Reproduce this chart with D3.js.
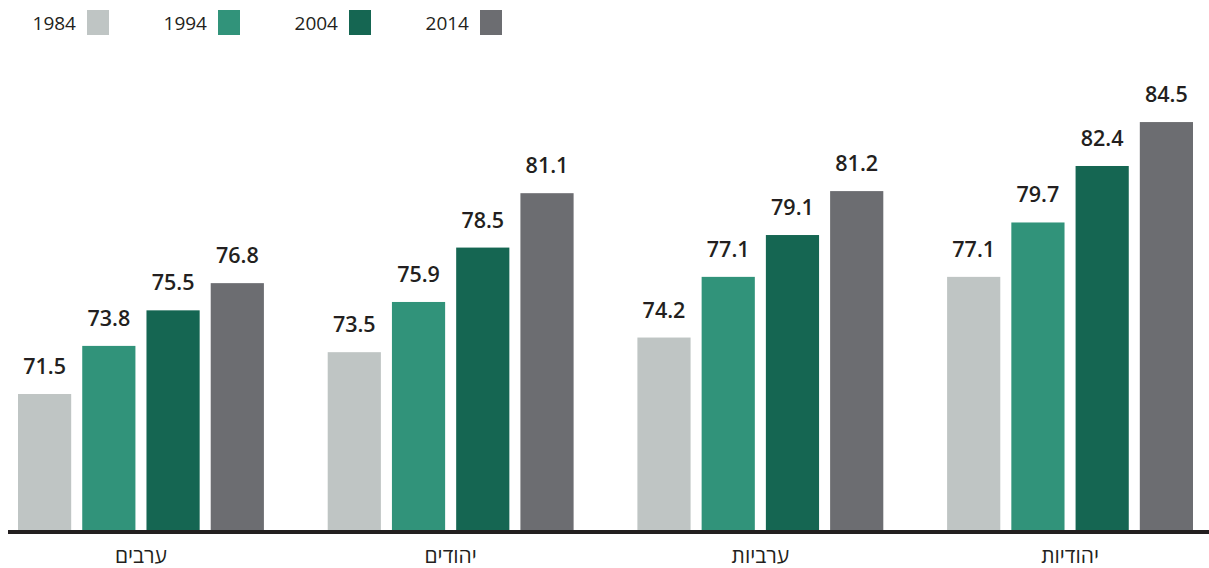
<!DOCTYPE html>
<html>
<head>
<meta charset="utf-8">
<script src="https://cdn.jsdelivr.net/npm/d3@7"></script>
<style>
  body { margin: 0; background: #fff; }
  svg text { font-family: "Open Sans", "DejaVu Sans", sans-serif; fill: #231f20; }
</style>
</head>
<body>
<div class="chart"></div>
<script>
const groups = ["ערבים", "יהודים", "ערביות", "יהודיות"]
const years = ["1984", "1994", "2004", "2014"]
const values1984 = [71.5, 73.5, 74.2, 77.1]
const values1994 = [73.8, 75.9, 77.1, 79.7]
const values2004 = [75.5, 78.5, 79.1, 82.4]
const values2014 = [76.8, 81.1, 81.2, 84.5]
const colors = ["#bfc5c4", "#31937a", "#156652", "#6c6d71"]

const series = [values1984, values1994, values2004, values2014]
const rows = []
groups.forEach((g, gi) => {
    years.forEach((yr, yi) => {
        rows.push({ group: g, year: yr, value: series[yi][gi] })
    })
})

const w = 1209, h = 568
const baseY = 530

const svg = d3.select(".chart")
    .append("svg")
    .attr("width", w)
    .attr("height", h)

// scales
var x0 = d3.scaleBand()
    .domain(groups)
    .range([18, 1193])
    .paddingInner(0.206)
    .paddingOuter(0)

var x1 = d3.scaleBand()
    .domain(years)
    .range([0, x0.bandwidth()])
    .paddingInner(0.172)
    .paddingOuter(0)

var y = d3.scaleLinear()
    .domain([65, 90])
    .range([baseY, baseY - 25 * 20.92])

var color = d3.scaleOrdinal()
    .domain(years)
    .range(colors)

// bars
var bars = svg.append("g")
bars.selectAll("rect")
    .data(rows)
    .enter().append("rect")
    .attr("x", d => x0(d.group) + x1(d.year))
    .attr("y", d => y(d.value))
    .attr("width", x1.bandwidth())
    .attr("height", d => baseY - y(d.value))
    .attr("fill", d => color(d.year))

// value labels
bars.selectAll("text")
    .data(rows)
    .enter().append("text")
    .attr("x", d => x0(d.group) + x1(d.year) + x1.bandwidth() / 2)
    .attr("y", d => y(d.value) - 20)
    .attr("text-anchor", "middle")
    .style("font-size", "21.5px")
    .style("font-weight", 600)
    .text(d => d3.format(".1f")(d.value))

// baseline
svg.append("line")
    .attr("x1", 8)
    .attr("x2", w)
    .attr("y1", baseY + 2)
    .attr("y2", baseY + 2)
    .attr("stroke", "#231f20")
    .attr("stroke-width", 4)

// x axis labels
const xAxis = d3.axisBottom(x0).tickSize(0).tickPadding(0)
svg.append("g")
    .attr("transform", `translate(0, ${baseY})`)
    .call(xAxis)
    .call(g => g.select(".domain").remove())
    .selectAll("text")
    .attr("dy", null)
    .attr("y", 33)
    .style("font-size", "21px")
    .style("font-family", "\"Open Sans\", \"DejaVu Sans\", sans-serif")
    .attr("fill", "#231f20")

// legend
var legendX = d3.scalePoint()
    .domain(years)
    .range([87, 480])

var legend = svg.append("g")
    .selectAll("g")
    .data(years)
    .enter().append("g")
    .attr("transform", d => "translate(" + legendX(d) + ",10)")

legend.append("rect")
    .attr("width", 22)
    .attr("height", 25)
    .attr("fill", d => color(d))

legend.append("text")
    .attr("x", -11)
    .attr("y", 20)
    .attr("text-anchor", "end")
    .style("font-size", "19px")
    .style("font-weight", 500)
    .text(d => d)
</script>
</body>
</html>
